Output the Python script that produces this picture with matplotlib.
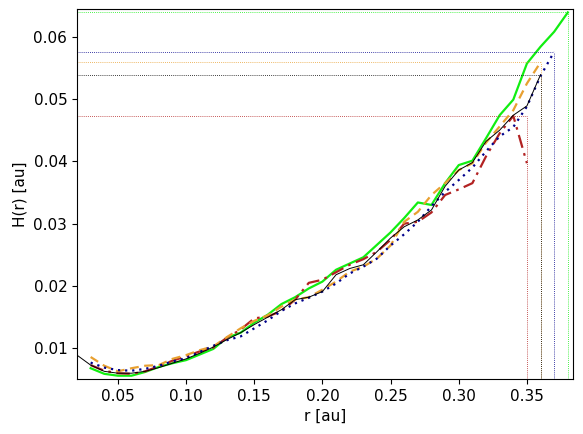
import numpy as np
import matplotlib
matplotlib.use("Agg")
import matplotlib.pyplot as plt

# ---- data ----
r_black = [0.02, 0.03, 0.04, 0.05, 0.06, 0.07, 0.08, 0.09, 0.10, 0.11, 0.12, 0.13,
           0.14, 0.15, 0.16, 0.17, 0.18, 0.19, 0.20, 0.21, 0.22, 0.23, 0.24, 0.25,
           0.26, 0.27, 0.28, 0.29, 0.30, 0.31, 0.32, 0.33, 0.34, 0.35, 0.36]
H_black = [0.0089, 0.0073, 0.0063, 0.0060, 0.0060, 0.0063, 0.0069, 0.0076, 0.0083,
           0.0092, 0.0102, 0.0114, 0.0125, 0.0138, 0.0150, 0.0162, 0.0178, 0.0182,
           0.0191, 0.0218, 0.0228, 0.0234, 0.0255, 0.0277, 0.0295, 0.0306, 0.0322,
           0.0360, 0.0386, 0.0398, 0.0432, 0.0450, 0.0474, 0.0489, 0.0539]

r_red = [0.03, 0.04, 0.05, 0.06, 0.07, 0.08, 0.09, 0.10, 0.11, 0.12, 0.13, 0.14,
         0.15, 0.16, 0.17, 0.18, 0.19, 0.20, 0.21, 0.22, 0.23, 0.24, 0.25, 0.26,
         0.27, 0.28, 0.29, 0.30, 0.31, 0.32, 0.33, 0.34, 0.35]
H_red = [0.0073, 0.0064, 0.0060, 0.0059, 0.0063, 0.0071, 0.0080, 0.0087, 0.0095,
         0.0101, 0.0117, 0.0130, 0.0148, 0.0151, 0.0160, 0.0178, 0.0205, 0.0210,
         0.0222, 0.0234, 0.0243, 0.0255, 0.0274, 0.0300, 0.0303, 0.0318, 0.0346,
         0.0355, 0.0365, 0.0408, 0.0445, 0.0473, 0.0397]

r_orange = [0.03, 0.04, 0.05, 0.06, 0.07, 0.08, 0.09, 0.10, 0.11, 0.12, 0.13, 0.14,
            0.15, 0.16, 0.17, 0.18, 0.19, 0.20, 0.21, 0.22, 0.23, 0.24, 0.25, 0.26,
            0.27, 0.28, 0.29, 0.30, 0.31, 0.32, 0.33, 0.34, 0.35, 0.36]
H_orange = [0.0086, 0.0072, 0.0063, 0.0068, 0.0072, 0.0073, 0.0083, 0.0089, 0.0097,
            0.0103, 0.0118, 0.0132, 0.0144, 0.0153, 0.0167, 0.0178, 0.0182, 0.0194,
            0.0207, 0.0223, 0.0231, 0.0244, 0.0265, 0.0303, 0.0319, 0.0346, 0.0365,
            0.0386, 0.0397, 0.0430, 0.0456, 0.0482, 0.0525, 0.0559]

r_blue = [0.03, 0.04, 0.05, 0.06, 0.07, 0.08, 0.09, 0.10, 0.11, 0.12, 0.13, 0.14,
          0.15, 0.16, 0.17, 0.18, 0.19, 0.20, 0.21, 0.22, 0.23, 0.24, 0.25, 0.26,
          0.27, 0.28, 0.29, 0.30, 0.31, 0.32, 0.33, 0.34, 0.35, 0.36, 0.37]
H_blue = [0.0077, 0.0069, 0.0065, 0.0064, 0.0067, 0.0072, 0.0079, 0.0084, 0.0094,
          0.0104, 0.0113, 0.0119, 0.0132, 0.0145, 0.0160, 0.0172, 0.0181, 0.0191,
          0.0204, 0.0220, 0.0231, 0.0244, 0.0265, 0.0283, 0.0303, 0.0328, 0.0351,
          0.0370, 0.0390, 0.0416, 0.0440, 0.0455, 0.0488, 0.0537, 0.0576]

r_green = [0.03, 0.04, 0.05, 0.06, 0.07, 0.08, 0.09, 0.10, 0.11, 0.12, 0.13, 0.14,
           0.15, 0.16, 0.17, 0.18, 0.19, 0.20, 0.21, 0.22, 0.23, 0.24, 0.25, 0.26,
           0.27, 0.28, 0.29, 0.30, 0.31, 0.32, 0.33, 0.34, 0.35, 0.36, 0.37, 0.38]
H_green = [0.0068, 0.0059, 0.0056, 0.0056, 0.0062, 0.0070, 0.0076, 0.0081, 0.0090,
           0.0099, 0.0117, 0.0125, 0.0141, 0.0154, 0.0171, 0.0182, 0.0196, 0.0207,
           0.0226, 0.0236, 0.0246, 0.0266, 0.0286, 0.0309, 0.0334, 0.0330, 0.0365,
           0.0394, 0.0401, 0.0437, 0.0474, 0.0499, 0.0557, 0.0584, 0.0608, 0.0639]

x_lim = (0.02, 0.3838)
y_lim = (0.00507, 0.0644)

plt.rcParams['font.family'] = ['DejaVu Sans']
plt.rcParams['font.size'] = 11

fig = plt.figure(figsize=(5.83, 4.34), dpi=100)
ax = fig.add_axes([77/583, 1 - 379/434, (573-77)/583, (379-9.3)/434])

series = [
    (r_green, H_green, '#11ee11', '-', 1.6),
    (r_red, H_red, '#b22222', (0, (6, 2.5, 1.2, 2.5)), 1.6),
    (r_orange, H_orange, '#e8a030', (0, (4, 2.5)), 1.6),
    (r_blue, H_blue, '#00008b', (0, (1, 2.2)), 1.6),
    (r_black, H_black, 'black', '-', 0.7),
]

for r, H, c, ls, lw in series:
    ax.plot(r, H, color=c, linestyle=ls, linewidth=lw)
    r_end = max(r)
    H_end = max(H)
    ax.hlines(H_end, x_lim[0], r_end, colors=c, linestyles=(0, (1, 1.5)), linewidth=0.6)
    ax.vlines(r_end, y_lim[0], H_end, colors=c, linestyles=(0, (1, 1.5)), linewidth=0.6)

ax.set_xlim(*x_lim)
ax.set_ylim(*y_lim)
ax.set_xticks([0.05, 0.10, 0.15, 0.20, 0.25, 0.30, 0.35])
ax.set_yticks([0.01, 0.02, 0.03, 0.04, 0.05, 0.06])
ax.set_xlabel('r [au]')
ax.set_ylabel('H(r) [au]')

fig.savefig('out.png', dpi=100)
